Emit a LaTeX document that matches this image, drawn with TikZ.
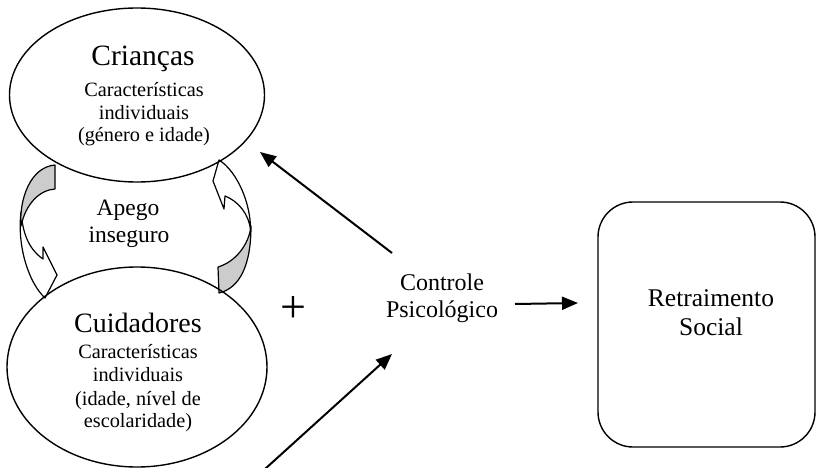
\documentclass[tikz,border=0pt]{standalone}
\usepackage{fontspec}
\setmainfont{Liberation Serif}
\usetikzlibrary{shapes.geometric,arrows.meta}
\begin{document}
\begin{tikzpicture}[x=1pt,y=-1pt,
  oval/.style={ellipse, draw, line width=1.4pt, inner sep=0pt},
  conn/.style={line width=2pt, -{Triangle[length=16pt,width=13pt]}},
  front/.style={draw, line width=1.2pt, line join=round, fill=white},
  back/.style={draw, line width=1.2pt, line join=round, fill=gray!40},
  lab/.style={anchor=base, inner sep=0pt, align=center},
  small/.style={font=\fontsize{20.3}{24}\selectfont},
  mid/.style={font=\fontsize{24}{28}\selectfont}]
\useasboundingbox (0,0) rectangle (817,468);

% curved arrows (Apego inseguro)
\path[front] (21,212) .. controls (17,245) and (28,282) .. (45,298)
  -- (57,275) -- (43,247) -- (43,259)
  .. controls (30,250) and (23,236) .. (21,212) -- cycle;
\path[back] (55,165) -- (55,189) .. controls (40,190) and (26,203) .. (21,226)
  .. controls (19,200) and (30,167) .. (55,165) -- cycle;

\path[front] (219,160) -- (213,181) -- (224,209) -- (225,196)
  .. controls (238,201) and (249,214) .. (250.5,230)
  .. controls (251,205) and (238,172) .. (219,160) -- cycle;
\path[back] (218,267) -- (219,293) .. controls (240,288) and (251,265) .. (251,226)
  .. controls (249,245) and (235,262) .. (218,267) -- cycle;

% ellipses
\node[oval, minimum width=255pt, minimum height=174pt] (cri) at (137,95) {};
\node[oval, minimum width=260pt, minimum height=200pt] (cui) at (137,367) {};

\node[lab, font=\fontsize{29.5}{34}\selectfont] (t1) at (143,66) {Crianças};
\node[lab, small] (t2) at (144,97)  {Características};
\node[lab, small] (t3) at (144,120) {individuais};
\node[lab, small] (t4) at (144,142) {(género e idade)};

\node[lab, font=\fontsize{28}{34}\selectfont] (b1) at (138,332) {Cuidadores};
\node[lab, small] (b2) at (138,358) {Características};
\node[lab, small] (b3) at (138,381) {individuais};
\node[lab, small] (b4) at (138,405) {(idade, nível de};
\node[lab, small] (b5) at (138,427) {escolaridade)};

\node[lab, font=\fontsize{23.5}{28}\selectfont] (ap1) at (128,215) {Apego};
\node[lab, font=\fontsize{23.5}{28}\selectfont] (ap2) at (129,242) {inseguro};

\node[lab, mid] (c1) at (442,290) {Controle};
\node[lab, mid] (c2) at (442,317) {Psicológico};

\node[inner sep=0pt, font=\fontsize{46}{50}\selectfont] (plus) at (293,310) {+};

% outcome box
\node[draw, rounded corners=35pt, line width=1.4pt, minimum width=217pt,
      minimum height=245pt] (ret) at (706.5,324.5) {};
\node[lab, font=\fontsize{25.5}{30}\selectfont] (r1) at (711,306) {Retraimento};
\node[lab, font=\fontsize{25.5}{30}\selectfont] (r2) at (711,335) {Social};

% connectors
\coordinate (s1) at (392,253);
\coordinate (e1) at (260,152);
\coordinate (s2) at (265,469);
\coordinate (e2) at (392,354);
\coordinate (s3) at (515,304);
\coordinate (e3) at (578,303);
\draw[conn] (s1) -- (e1);
\draw[conn] (s2) -- (e2);
\draw[conn] (s3) -- (e3);
\end{tikzpicture}
\end{document}
